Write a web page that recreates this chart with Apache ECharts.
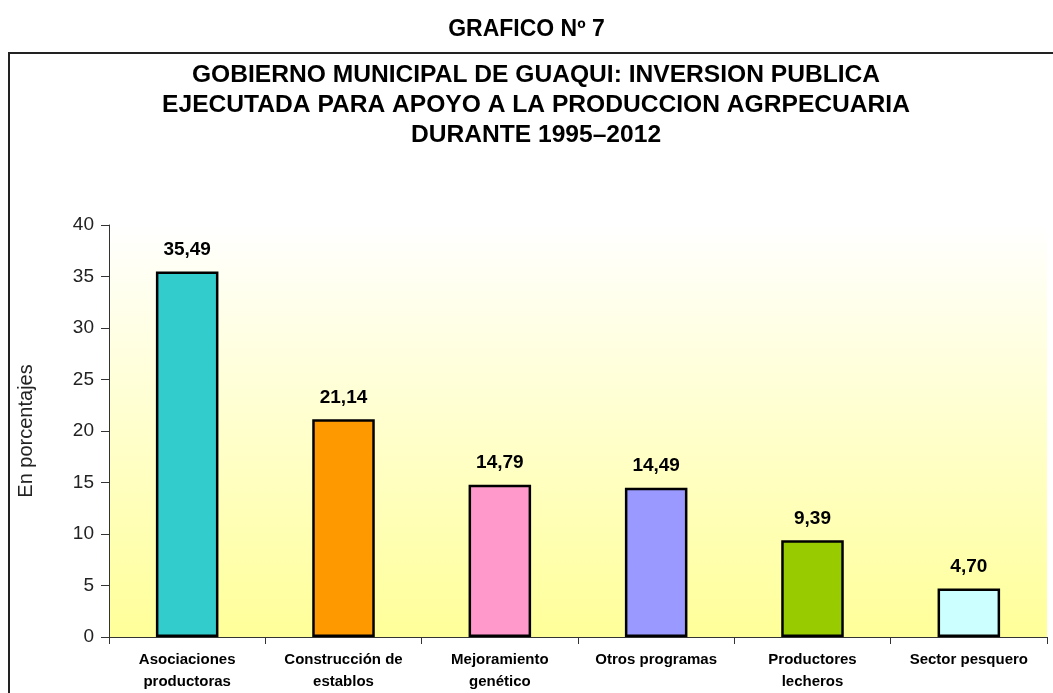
<!DOCTYPE html>
<html>
<head>
<meta charset="utf-8">
<script src="https://cdn.jsdelivr.net/npm/echarts@6/dist/echarts.min.js"></script>
<style>
  html, body { margin: 0; padding: 0; background: #fff; }
  #chart { width: 1053px; height: 693px; }
</style>
</head>
<body>
<div id="chart"></div>
<script>
// datos del grafico
const categories = ['Asociaciones\nproductoras', 'Construcción de\nestablos', 'Mejoramiento\ngenético', 'Otros programas', 'Productores\nlecheros', 'Sector pesquero'];
const values = [35.49, 21.14, 14.79, 14.49, 9.39, 4.70];
const barColors = ['#33CCCC', '#FF9900', '#FF99CC', '#9999FF', '#99CC00', '#CCFFFF'];
const yTicks = { min: 0, max: 40, interval: 5 };
const titleLines = [
  'GOBIERNO MUNICIPAL DE GUAQUI: INVERSION PUBLICA',
  'EJECUTADA PARA APOYO A LA PRODUCCION AGRPECUARIA',
  'DURANTE 1995–2012'
];

const FONT = 'Liberation Sans, Arial';
const chart = echarts.init(document.getElementById('chart'));

// una entrada de titulo por linea, centradas en el marco
const titles = [{
  text: 'GRAFICO Nº 7',
  left: 'center',
  top: 13,
  textStyle: { fontFamily: FONT, fontSize: 23, fontWeight: 'bold', color: '#000' }
}];
titleLines.forEach((line, i) => {
  titles.push({
    text: line,
    left: 536,
    textAlign: 'center',
    top: 63 + i * 30,
    padding: 0,
    textStyle: { fontFamily: FONT, fontSize: 24.6, fontWeight: 'bold', color: '#000' }
  });
});

const option = {
  backgroundColor: '#fff',
  animation: false,
  title: titles,
  graphic: [
    {
      type: 'rect',
      z: -1,
      shape: { x: 9, y: 53, width: 1060, height: 700 },
      style: { fill: 'none', stroke: '#222', lineWidth: 2 }
    }
  ],
  grid: {
    left: 109,
    right: 6,
    top: 225,
    bottom: 54,
    show: true,
    borderWidth: 0,
    backgroundColor: new echarts.graphic.LinearGradient(0, 0, 0, 1, [
      { offset: 0, color: '#FFFFFF' },
      { offset: 1, color: '#FFFF99' }
    ])
  },
  xAxis: {
    type: 'category',
    data: categories,
    axisLine: { lineStyle: { color: '#333', width: 1 } },
    axisTick: { show: true, length: 7, lineStyle: { color: '#333' } },
    axisLabel: {
      interval: 0,
      margin: 12,
      fontFamily: FONT,
      fontSize: 15,
      fontWeight: 'bold',
      color: '#000',
      lineHeight: 22
    }
  },
  yAxis: {
    type: 'value',
    min: yTicks.min,
    max: yTicks.max,
    interval: yTicks.interval,
    name: 'En porcentajes',
    nameLocation: 'middle',
    nameGap: 73,
    nameTextStyle: { fontFamily: FONT, fontSize: 20, color: '#222' },
    axisLine: { show: true, lineStyle: { color: '#333', width: 1 } },
    axisTick: { show: true, length: 8, lineStyle: { color: '#333' } },
    splitLine: { show: false },
    axisLabel: { fontFamily: FONT, fontSize: 19, color: '#222', margin: 15 }
  },
  series: [
    {
      type: 'bar',
      barWidth: '40%',
      data: values.map((v, i) => ({
        value: v,
        itemStyle: { color: barColors[i], borderColor: '#000', borderWidth: 2.5 }
      })),
      label: {
        show: true,
        position: 'top',
        distance: 12,
        fontFamily: FONT,
        fontSize: 19,
        fontWeight: 'bold',
        color: '#000',
        formatter: p => p.value.toFixed(2).replace('.', ',')
      }
    }
  ]
};

chart.setOption(option);
</script>
</body>
</html>
